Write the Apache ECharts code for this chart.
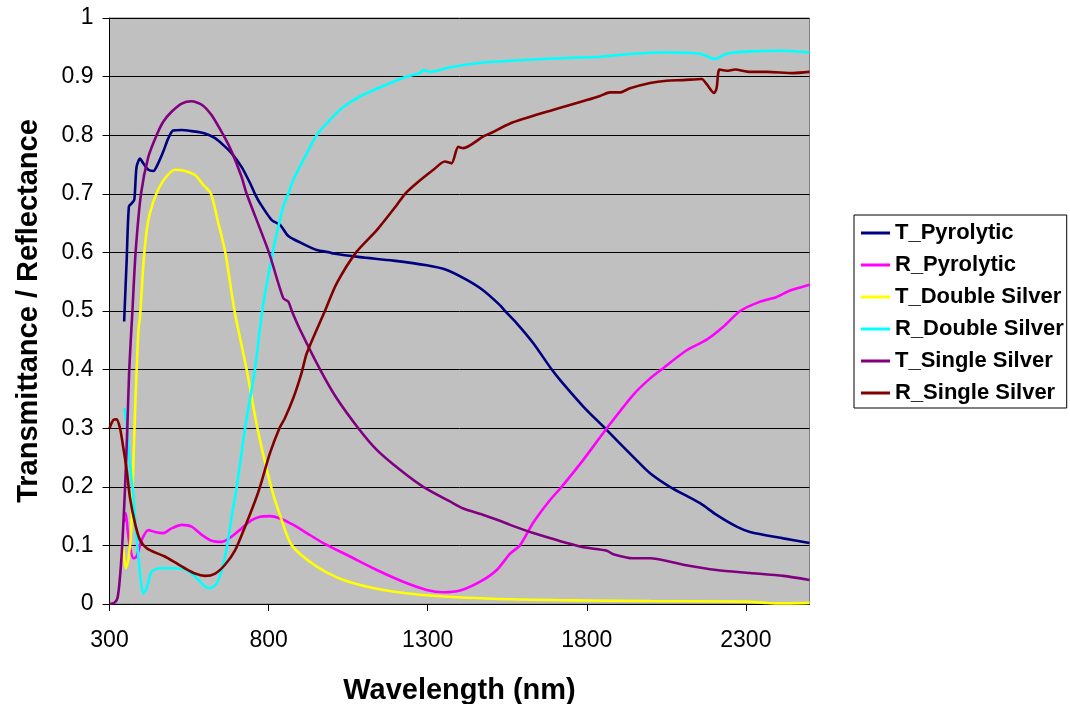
<!DOCTYPE html>
<html>
<head>
<meta charset="utf-8">
<script src="https://cdn.jsdelivr.net/npm/echarts@6/dist/echarts.min.js"></script>
<style>
html,body{margin:0;padding:0;background:#fff;}
#chart{width:1070px;height:704px;}
</style>
</head>
<body>
<div id="chart"></div>
<script>
// ---- data (wavelength nm, value) ----
const xTickLabels = [300, 800, 1300, 1800, 2300];
const seriesNames = ['T_Pyrolytic', 'R_Pyrolytic', 'T_Double Silver', 'R_Double Silver', 'T_Single Silver', 'R_Single Silver'];

const tPyroWl  = [346, 354, 361, 370, 378, 385, 396, 406, 422, 438, 453, 469, 485, 500, 527, 558, 600, 632, 658, 684, 715, 742, 757, 773, 810, 836, 862, 899, 951, 993, 1003, 1087, 1192, 1297, 1360, 1423, 1475, 1527, 1543, 1580, 1632, 1690, 1721, 1789, 1857, 1946, 1999, 2061, 2156, 2208, 2271, 2313, 2418, 2500];
const tPyroVal = [0.482, 0.587, 0.678, 0.684, 0.690, 0.746, 0.760, 0.752, 0.741, 0.739, 0.752, 0.772, 0.795, 0.808, 0.809, 0.807, 0.803, 0.795, 0.783, 0.769, 0.746, 0.718, 0.700, 0.684, 0.655, 0.647, 0.628, 0.617, 0.604, 0.600, 0.598, 0.592, 0.586, 0.578, 0.570, 0.553, 0.535, 0.510, 0.500, 0.479, 0.445, 0.400, 0.379, 0.337, 0.300, 0.251, 0.223, 0.200, 0.172, 0.152, 0.132, 0.123, 0.112, 0.104];

const rPyroWl  = [345, 351, 357, 364, 375, 385, 401, 422, 443, 469, 495, 527, 558, 590, 621, 653, 684, 715, 747, 773, 804, 836, 878, 920, 972, 1056, 1140, 1223, 1297, 1349, 1402, 1465, 1517, 1559, 1590, 1632, 1684, 1721, 1789, 1863, 1946, 1999, 2034, 2114, 2177, 2229, 2282, 2345, 2397, 2439, 2500];
const rPyroVal = [0.140, 0.155, 0.126, 0.098, 0.078, 0.081, 0.109, 0.126, 0.123, 0.121, 0.129, 0.135, 0.132, 0.118, 0.108, 0.106, 0.115, 0.129, 0.143, 0.149, 0.150, 0.146, 0.135, 0.121, 0.104, 0.081, 0.058, 0.038, 0.024, 0.020, 0.023, 0.038, 0.058, 0.086, 0.100, 0.139, 0.177, 0.200, 0.246, 0.300, 0.357, 0.385, 0.400, 0.433, 0.451, 0.473, 0.500, 0.516, 0.524, 0.535, 0.545];

const tDblWl  = [343, 351, 359, 368, 375, 382, 391, 396, 406, 417, 427, 448, 474, 506, 537, 569, 595, 619, 642, 664, 693, 731, 765, 808, 840, 873, 951, 1035, 1161, 1318, 1559, 1800, 2000, 2300, 2360, 2400, 2500];
const tDblVal = [0.098, 0.061, 0.075, 0.126, 0.240, 0.354, 0.468, 0.490, 0.576, 0.638, 0.667, 0.701, 0.726, 0.741, 0.739, 0.732, 0.715, 0.700, 0.650, 0.600, 0.500, 0.400, 0.300, 0.200, 0.145, 0.100, 0.064, 0.041, 0.024, 0.014, 0.008, 0.006, 0.005, 0.004, 0.002, 0.001, 0.002];

const rDblWl  = [347, 354, 364, 375, 385, 396, 406, 417, 432, 459, 495, 537, 569, 600, 616, 637, 653, 670, 684, 700, 726, 757, 780, 813, 846, 862, 878, 920, 951, 993, 1035, 1087, 1161, 1234, 1276, 1286, 1307, 1370, 1475, 1559, 1700, 1842, 1946, 2051, 2156, 2203, 2240, 2313, 2418, 2500];
const rDblVal = [0.334, 0.308, 0.240, 0.183, 0.115, 0.052, 0.018, 0.027, 0.055, 0.061, 0.061, 0.059, 0.047, 0.030, 0.027, 0.035, 0.058, 0.100, 0.149, 0.200, 0.300, 0.400, 0.500, 0.600, 0.678, 0.700, 0.724, 0.769, 0.800, 0.826, 0.848, 0.866, 0.884, 0.900, 0.906, 0.911, 0.908, 0.916, 0.924, 0.927, 0.931, 0.934, 0.939, 0.941, 0.939, 0.930, 0.939, 0.943, 0.944, 0.941];

const tSglWl  = [300, 315, 325, 332, 340, 349, 356, 362, 372, 382, 399, 422, 448, 469, 495, 527, 558, 590, 621, 658, 684, 715, 731, 801, 846, 862, 873, 899, 962, 1014, 1082, 1140, 1213, 1286, 1370, 1412, 1475, 1527, 1559, 1632, 1779, 1863, 1883, 1946, 1999, 2103, 2208, 2313, 2418, 2500];
const tSglVal = [0.000, 0.002, 0.010, 0.040, 0.100, 0.200, 0.300, 0.400, 0.500, 0.600, 0.700, 0.763, 0.800, 0.823, 0.840, 0.854, 0.858, 0.852, 0.834, 0.800, 0.772, 0.729, 0.700, 0.600, 0.522, 0.516, 0.500, 0.468, 0.400, 0.351, 0.300, 0.263, 0.229, 0.200, 0.175, 0.163, 0.152, 0.142, 0.135, 0.121, 0.098, 0.091, 0.085, 0.078, 0.078, 0.067, 0.058, 0.053, 0.048, 0.041];

const rSglWl  = [300, 312, 322, 333, 343, 354, 364, 380, 396, 417, 443, 474, 506, 537, 569, 600, 632, 663, 695, 726, 757, 773, 804, 834, 851, 878, 904, 920, 977, 1014, 1075, 1140, 1203, 1229, 1265, 1318, 1354, 1375, 1396, 1412, 1475, 1496, 1559, 1674, 1800, 1842, 1873, 1904, 1936, 1999, 2051, 2103, 2161, 2177, 2200, 2208, 2217, 2240, 2266, 2313, 2366, 2449, 2500];
const rSglVal = [0.300, 0.314, 0.315, 0.300, 0.268, 0.229, 0.183, 0.138, 0.109, 0.095, 0.088, 0.081, 0.071, 0.061, 0.052, 0.048, 0.052, 0.067, 0.092, 0.132, 0.175, 0.200, 0.257, 0.300, 0.317, 0.352, 0.395, 0.428, 0.500, 0.547, 0.600, 0.638, 0.681, 0.700, 0.718, 0.741, 0.755, 0.752, 0.780, 0.778, 0.798, 0.803, 0.820, 0.840, 0.860, 0.867, 0.873, 0.873, 0.880, 0.889, 0.893, 0.894, 0.896, 0.887, 0.872, 0.880, 0.912, 0.910, 0.912, 0.908, 0.908, 0.906, 0.908];

const seriesWl  = [tPyroWl, rPyroWl, tDblWl, rDblWl, tSglWl, rSglWl];
const seriesVal = [tPyroVal, rPyroVal, tDblVal, rDblVal, tSglVal, rSglVal];
const seriesColors = ['#000080', '#FF00FF', '#FFFF00', '#00FFFF', '#800080', '#800000'];

const FONT = '"Liberation Sans", Arial, sans-serif';

const chart = echarts.init(document.getElementById('chart'), null, {renderer: 'canvas'});

const series = seriesNames.map((name, i) => ({
  name: name,
  type: 'line',
  showSymbol: false,
  symbol: 'none',
  smooth: 0.25,
  animation: false,
  lineStyle: {color: seriesColors[i], width: 2.6},
  itemStyle: {color: seriesColors[i]},
  data: seriesWl[i].map((w, j) => [w, seriesVal[i][j]]),
  z: 3 + i
}));

chart.setOption({
  animation: false,
  backgroundColor: '#ffffff',
  grid: {
    left: 109.5, top: 18, right: 260.5, bottom: 100,
    outerBoundsMode: 'none', containLabel: false,
    show: true, backgroundColor: '#C0C0C0', borderColor: '#808080', borderWidth: 1
  },
  legend: {
    data: seriesNames.map((n, i) => ({name: n, icon: 'rect', itemStyle: {color: seriesColors[i]}})),
    orient: 'vertical',
    left: 854, top: 215,
    itemWidth: 29, itemHeight: 3,
    itemGap: 10,
    padding: [7, 3, 4, 7],
    borderColor: '#000', borderWidth: 1,
    backgroundColor: '#fff',
    selectedMode: false,
    textStyle: {fontFamily: FONT, fontSize: 22, fontWeight: 'bold', color: '#000', lineHeight: 22}
  },
  xAxis: {
    type: 'value', min: 300, max: 2500,
    name: 'Wavelength (nm)', nameLocation: 'middle', nameGap: 72,
    nameTextStyle: {fontFamily: FONT, fontSize: 29, fontWeight: 'bold', color: '#000'},
    axisLine: {show: true, onZero: false, lineStyle: {color: '#000', width: 1}},
    axisTick: {show: true, length: 7, lineStyle: {color: '#000'}, customValues: xTickLabels},
    axisLabel: {fontFamily: FONT, fontSize: 23, color: '#000', margin: 25, customValues: xTickLabels,
      formatter: v => String(v)},
    splitLine: {show: false}
  },
  yAxis: {
    type: 'value', min: 0, max: 1, interval: 0.1,
    name: 'Transmittance / Reflectance', nameLocation: 'middle', nameGap: 66,
    nameTextStyle: {fontFamily: FONT, fontSize: 29, fontWeight: 'bold', color: '#000'},
    axisLine: {show: true, lineStyle: {color: '#000', width: 1}},
    axisTick: {show: true, length: 7, lineStyle: {color: '#000'}},
    axisLabel: {fontFamily: FONT, fontSize: 23, color: '#000', margin: 16,
      formatter: v => String(Math.round(v * 10) / 10)},
    splitLine: {show: true, lineStyle: {color: '#000', width: 1}}
  },
  series: series
});
</script>
</body>
</html>
